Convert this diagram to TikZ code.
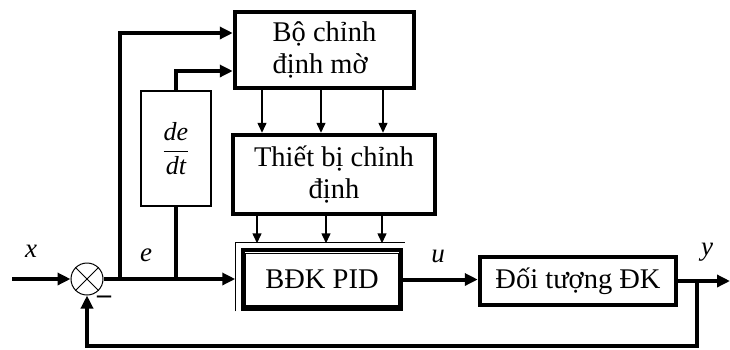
\documentclass[tikz,border=0pt]{standalone}
\usepackage{fontspec}
\setmainfont{Liberation Serif}
\usetikzlibrary{arrows.meta}
\begin{document}
\begin{tikzpicture}[x=1pt,y=-1pt,
  thickbox/.style={draw,line width=4.5pt,inner sep=0pt,font=\fontsize{28.5}{32}\selectfont},
  bigline/.style={line width=4pt},
  bigarrow/.style={line width=4pt,-{Triangle[length=13pt,width=12pt]}},
  smallarrow/.style={line width=1.5pt,-{Triangle[length=10pt,width=9pt]}},
  lbl/.style={font=\fontsize{27}{30}\selectfont\itshape,inner sep=0pt}]
\useasboundingbox (0,0) rectangle (730,349);

\node[thickbox,minimum width=179pt,minimum height=76pt,align=left] (fuzzy) at (324.5,50) {Bộ chỉnh\\định mờ};
\node[thickbox,minimum width=202pt,minimum height=79pt,align=center] (tune) at (334,174.5) {Thiết bị chỉnh\\định};
\node[draw,line width=2.5pt,minimum width=70pt,minimum height=115pt,inner sep=0pt,font=\fontsize{26}{30}\selectfont] (deriv) at (176,148.5) {\raisebox{7pt}{$\displaystyle\frac{\textit{de}}{\textit{dt}}$}};
\node[draw,line width=3.5pt,minimum width=158pt,minimum height=59pt,inner sep=0pt,font=\fontsize{28.5}{32}\selectfont] (pid) at (322,279.5) {BĐK PID};
\draw[line width=1.5pt] ([shift={(4,5)}]pid.north west) rectangle ([shift={(-4,-5)}]pid.south east);
\draw[line width=1.3pt] ([shift={(-6,63)}]pid.north west) -- ([shift={(-6,-6)}]pid.north west) -- ([shift={(2,-6)}]pid.north east);
\node[thickbox,minimum width=196pt,minimum height=48pt] (plant) at (578,281) {Đối tượng ĐK};

\node[draw,circle,line width=1pt,minimum size=32pt,inner sep=0pt] (sum) at (87,279) {};
\draw[line width=1pt] (sum.north west) -- (sum.south east) (sum.north east) -- (sum.south west);

\coordinate (xin) at (12,279);
\coordinate (b1) at (120,279);
\coordinate (out) at (730,281);
\coordinate (b3) at (697,281);
\coordinate (fbc) at (697,346);

\draw[bigarrow] (xin) -- (sum.west);
\draw[bigarrow] (sum.east) -- ([xshift=-6pt]pid.west |- sum.east);
\draw[bigarrow] (b1) |- ([yshift=17pt]fuzzy.west);
\draw[bigline] (deriv.south) -- (deriv.south |- sum.east);
\draw[bigarrow] (deriv.north) |- ([yshift=-21pt]fuzzy.west);

\foreach \dx in {262,321,383} \draw[smallarrow] (fuzzy.south -| \dx,0) -- (tune.north -| \dx,0);
\foreach \dx in {257,326,382} \draw[smallarrow] (tune.south -| \dx,0) -- ([yshift=5pt]pid.north -| \dx,0);

\draw[bigarrow] (pid.east) -- (pid.east -| plant.west);
\draw[bigarrow] (plant.east) -- (out);
\draw[bigarrow] (b3) -- (fbc) -| (sum.south);

\node[lbl] (lx) at (31,251) {x};
\node[lbl] (le) at (146,255) {e};
\node[lbl] (lu) at (438,256) {u};
\node[lbl] (ly) at (707,252) {y};
\node[font=\fontsize{28}{30}\selectfont\bfseries,inner sep=0pt] (minus) at (104,300) {–};
\end{tikzpicture}
\end{document}
